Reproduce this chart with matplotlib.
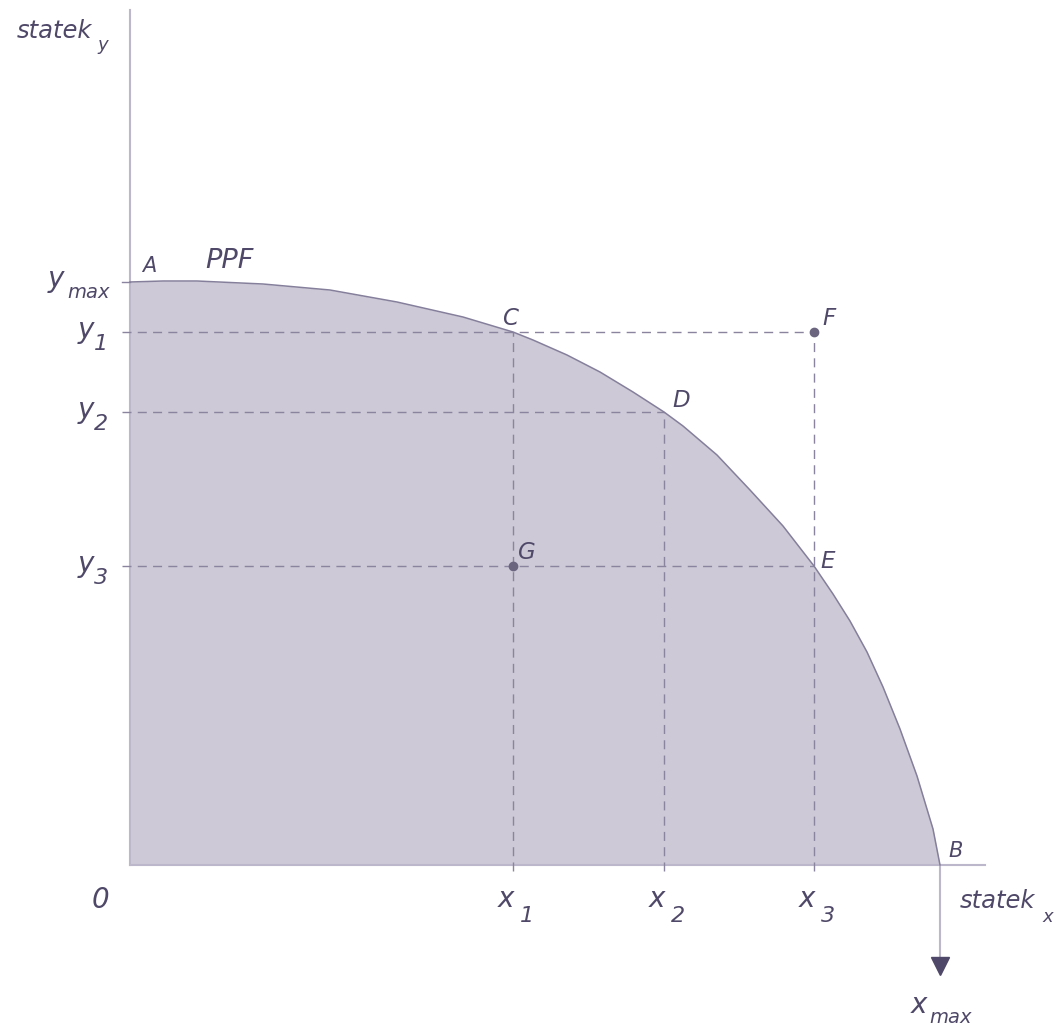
import matplotlib
matplotlib.use('Agg')
import matplotlib.pyplot as plt

# PPF curve (x = statek_x, y = statek_y)
ppf_x = [0, 33, 67, 133, 200, 267, 333, 383, 403, 437, 470, 503, 534, 553, 587, 620, 653,
         684, 703, 720, 737, 753, 770, 787, 803, 810]
ppf_y = [583, 584, 584, 581, 575, 563, 548, 533, 525, 510, 493, 473, 453, 439, 410, 375, 339,
         299, 271, 244, 213, 178, 136, 89, 36, 0]

y_max = 583
x_max = 810
x_ticks = [383, 534, 684]     # x1, x2, x3
y_ticks = [533, 453, 299]     # y1, y2, y3
subs = ['1', '2', '3']

point_C = (383, 533)
point_D = (534, 453)
point_E = (684, 299)
point_F = (684, 533)
point_G = (383, 299)

# Colours
txt = '#4f4868'
fill_c = '#cdc9d7'
axis_c = '#bcb7ca'
dash_c = '#8a849e'
curve_c = '#857f9b'

font = dict(family='DejaVu Sans', style='italic', color=txt, va='baseline', ha='left')

fig = plt.figure(figsize=(10.56, 10.25), dpi=100)
ax = fig.add_axes([0, 0, 1, 1])
ax.set_xlim(-130, 926)
ax.set_ylim(-160, 865)
ax.axis('off')

# shaded region under the frontier
ax.fill_between(ppf_x, ppf_y, 0, color=fill_c, lw=0, zorder=1)
ax.plot(ppf_x, ppf_y, color=curve_c, lw=1.1, zorder=3, solid_joinstyle='round')

# axes
ax.plot([0, 0], [0, 855], color=axis_c, lw=1.5, zorder=2)
ax.plot([0, 855], [0, 0], color=axis_c, lw=1.5, zorder=2)
ax.plot([-8, 0], [y_max, y_max], color=dash_c, lw=1, zorder=2)

# arrow down from B to x_max
ax.plot([x_max, x_max], [0, -95], color=axis_c, lw=1.5, zorder=2)
ax.plot(x_max, -101, marker='v', ms=13, color=txt, zorder=4)

# dashed guide lines
ds = (0, (6.5, 4.5))
ax.plot([-8, point_F[0]], [y_ticks[0], y_ticks[0]], color=dash_c, lw=1, ls=ds, zorder=2)
ax.plot([-8, point_D[0]], [y_ticks[1], y_ticks[1]], color=dash_c, lw=1, ls=ds, zorder=2)
ax.plot([-8, point_E[0]], [y_ticks[2], y_ticks[2]], color=dash_c, lw=1, ls=ds, zorder=2)
ax.plot([x_ticks[0], x_ticks[0]], [-6, point_C[1]], color=dash_c, lw=1, ls=ds, zorder=2)
ax.plot([x_ticks[1], x_ticks[1]], [-6, point_D[1]], color=dash_c, lw=1, ls=ds, zorder=2)
ax.plot([x_ticks[2], x_ticks[2]], [-6, point_F[1]], color=dash_c, lw=1, ls=ds, zorder=2)

# dots
ax.plot(*point_F, 'o', ms=6, color='#6b6580', zorder=4)
ax.plot(*point_G, 'o', ms=6, color='#6b6580', zorder=4)

# axis titles
ax.text(-113, 827, 'statek', fontsize=17.5, **font)
ax.text(-33, 815, 'y', fontsize=13, **font)
ax.text(830, -43, 'statek', fontsize=17.5, **font)
ax.text(912, -57, 'x', fontsize=13, **font)

# y labels
ax.text(-82, y_max - 5, 'y', fontsize=20, **font)
ax.text(-63, y_max - 16, 'max', fontsize=14, **font)
for yv, s in zip(y_ticks, subs):
    ax.text(-52, yv - 6, 'y', fontsize=20, **font)
    ax.text(-36, yv - 18, s, fontsize=16, **font)

ax.text(-38, -43, '0', fontsize=20, **font)

# x labels
for xv, s in zip(x_ticks, subs):
    ax.text(xv - 15, -42, 'x', fontsize=20, **font)
    ax.text(xv + 7, -57, s, fontsize=16, **font)
ax.text(x_max - 29, -148, 'x', fontsize=20, **font)
ax.text(x_max - 11, -158, 'max', fontsize=14, **font)

# point labels
ax.text(12, 593, 'A', fontsize=15, **font)
ax.text(75, 597, 'PPF', fontsize=19.5, **font)
ax.text(818, 8, 'B', fontsize=15, **font)
ax.text(372, 540, 'C', fontsize=16.5, **font)
ax.text(542, 458, 'D', fontsize=16.5, **font)
ax.text(690, 297, 'E', fontsize=16.5, **font)
ax.text(692, 540, 'F', fontsize=16.5, **font)
ax.text(388, 306, 'G', fontsize=16.5, **font)

fig.savefig('out.png', dpi=100, facecolor='white')
